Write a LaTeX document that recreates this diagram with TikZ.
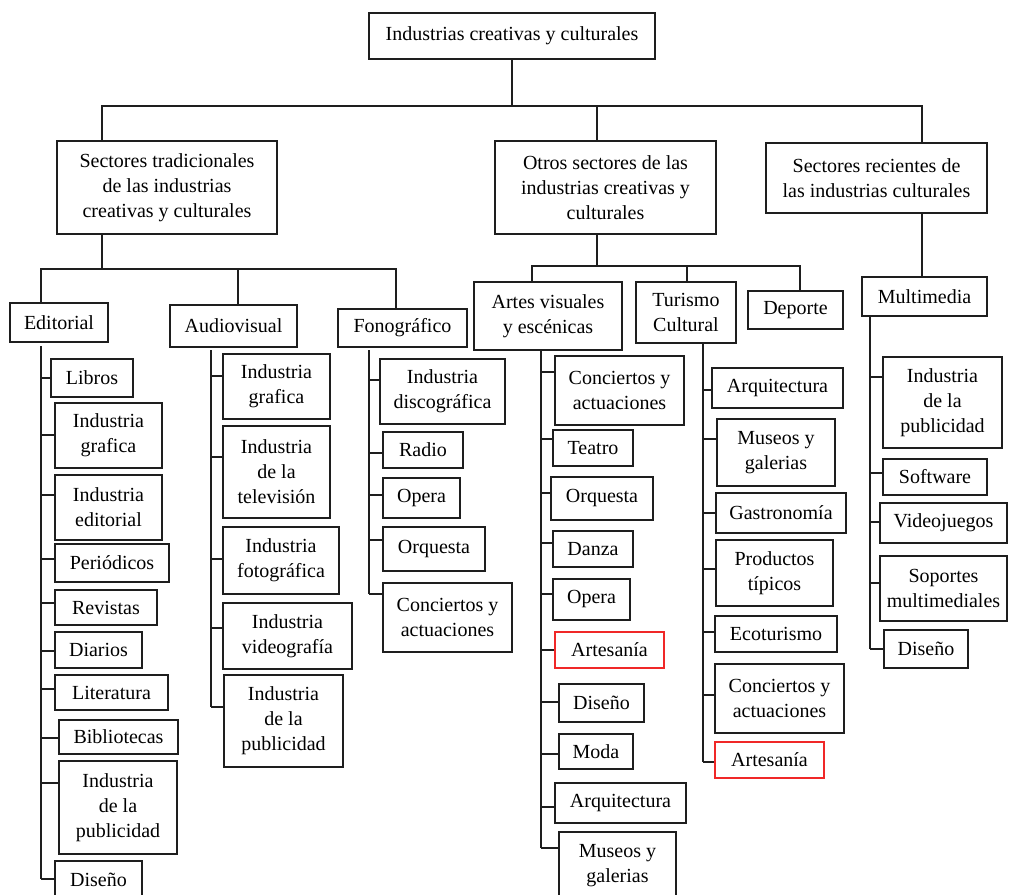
\documentclass[tikz,border=0pt]{standalone}
\usepackage{fontspec}
\setmainfont{Liberation Serif}
\newfontfamily\lserif{Liberation Serif}
\definecolor{linec}{HTML}{1E1E1E}
\definecolor{redc}{HTML}{F02828}
\tikzset{
  box/.style={draw=linec, line width=1.4pt, inner sep=0pt, align=center,
    font=\lserif\fontsize{20}{25}\selectfont, text=black},
  redbox/.style={draw=redc},
  conn/.style={draw=linec, line width=1.5pt}
}
% \bx[opts]{name}{x1}{y1}{x2}{y2}{text}  (pixel coordinates, y downwards)
\newcommand\bx[7][]{\node[box,#1, minimum width={#5-#3}, minimum height={#6-#4}] (#2) at ({(#3+#5)/2},{-(#4+#6)/2}) {#7};}
% \tk{spine}{node}{y}
\newcommand\tk[3]{\coordinate (t-#2) at (0,-#3); \draw[conn] (#1 |- t-#2) -- (#2.west |- t-#2);}
\begin{document}
\begin{tikzpicture}[x=1pt,y=1pt]
\useasboundingbox (0,0) rectangle (1009,-894);
\fill[white] (0,0) rectangle (1009,-894);
\clip (0,0) rectangle (1009,-894);

% level 0 and 1
\bx{top}{369}{13}{655}{59}{Industrias creativas y culturales}
\bx{trad}{57}{141}{277}{234}{Sectores tradicionales\\de las industrias\\creativas y culturales}
\bx{otros}{495}{141}{716}{234}{Otros sectores de las\\industrias creativas y\\culturales}
\bx{rec}{766}{143}{987}{213}{Sectores recientes de\\las industrias culturales}

\coordinate (busL) at (102,-106);
\coordinate (busO) at (597,-106);
\coordinate (busR) at (922,-106);
\draw[conn] (top.south) -- (top.south |- busL);
\draw[conn] (busL |- trad.north) -- (busL) -- (busR) -- (busR |- rec.north);
\draw[conn] (busO) -- (busO |- otros.north);

% level 2
\bx{edit}{10}{303}{108}{342}{Editorial}
\bx{audio}{170}{305}{297}{347}{Audiovisual}
\bx{fono}{338}{309}{467}{347}{Fonográfico}
\bx{artes}{474}{282}{622}{350}{Artes visuales\\y escénicas}
\bx{tur}{636}{282}{736}{343}{Turismo\\Cultural}
\bx{dep}{748}{291}{843}{329}{Deporte}
\bx{mm}{862}{277}{987}{316}{Multimedia}

\coordinate (b2) at (102,-269);
\coordinate (b2L) at (41,-269);
\coordinate (b2M) at (238,-269);
\coordinate (b2R) at (396,-269);
\draw[conn] (trad.south -| b2) -- (b2);
\draw[conn] (b2L |- edit.north) -- (b2L) -- (b2R) -- (b2R |- fono.north);
\draw[conn] (b2M) -- (b2M |- audio.north);

\coordinate (b3) at (597,-266);
\coordinate (b3L) at (532,-266);
\coordinate (b3M) at (687,-266);
\coordinate (b3R) at (800,-266);
\draw[conn] (otros.south -| b3) -- (b3);
\draw[conn] (b3L |- artes.north) -- (b3L) -- (b3R) -- (b3R |- dep.north);
\draw[conn] (b3M) -- (b3M |- tur.north);

\coordinate (b4) at (922,-213);
\draw[conn] (rec.south -| b4) -- (b4 |- mm.north);

% Editorial
\coordinate (sE) at (41,-346);
\bx{libros}{51}{359}{133}{397}{Libros}
\bx{edGraf}{55}{403}{162}{468}{Industria\\grafica}
\bx{edEdit}{55}{475}{162}{540}{Industria\\editorial}
\bx{per}{55}{544}{169}{582}{Periódicos}
\bx{rev}{55}{590}{157}{625}{Revistas}
\bx{dia}{55}{632}{142}{668}{Diarios}
\bx{lit}{55}{675}{168}{710}{Literatura}
\bx{bib}{59}{720}{178}{754}{Bibliotecas}
\bx{edPub}{59}{761}{177}{854}{Industria\\de la\\publicidad}
\bx{edDis}{55}{861}{142}{899}{Diseño}
\tk{sE}{libros}{378}
\tk{sE}{edGraf}{435}
\tk{sE}{edEdit}{495}
\tk{sE}{per}{559}
\tk{sE}{rev}{603}
\tk{sE}{dia}{651}
\tk{sE}{lit}{689}
\tk{sE}{bib}{738}
\tk{sE}{edPub}{783}
\tk{sE}{edDis}{879}
\draw[conn] (sE) -- (sE |- t-edDis);

% Audiovisual
\coordinate (sA) at (211,-350);
\bx{avGraf}{223}{354}{330}{419}{Industria\\grafica}
\bx{avTv}{223}{426}{330}{518}{Industria\\de la\\televisión}
\bx{avFoto}{223}{527}{339}{594}{Industria\\fotográfica}
\bx{avVid}{223}{603}{352}{669}{Industria\\videografía}
\bx{avPub}{224}{675}{343}{767}{Industria\\de la\\publicidad}
\tk{sA}{avGraf}{376}
\tk{sA}{avTv}{457}
\tk{sA}{avFoto}{559}
\tk{sA}{avVid}{628}
\tk{sA}{avPub}{707}
\draw[conn] (sA) -- (sA |- t-avPub);

% Fonografico
\coordinate (sF) at (369,-350);
\bx{disc}{380}{359}{505}{424}{Industria\\discográfica}
\bx{radio}{383}{432}{463}{468}{Radio}
\bx{fOpera}{383}{478}{460}{518}{Opera}
\bx{fOrq}{383}{527}{485}{571}{Orquesta}
\bx{fConc}{383}{583}{512}{652}{Conciertos y\\actuaciones}
\tk{sF}{disc}{380}
\tk{sF}{radio}{453}
\tk{sF}{fOpera}{495}
\tk{sF}{fOrq}{540}
\tk{sF}{fConc}{594}
\draw[conn] (sF) -- (sF |- t-fConc);

% Artes visuales
\coordinate (sV) at (541,-350);
\bx{aConc}{555}{356}{684}{425}{Conciertos y\\actuaciones}
\bx{teatro}{553}{430}{633}{466}{Teatro}
\bx{aOrq}{551}{477}{653}{520}{Orquesta}
\bx{danza}{553}{531}{633}{567}{Danza}
\bx{aOpera}{553}{579}{630}{620}{Opera}
\bx[redbox]{aArt}{555}{632}{664}{668}{Artesanía}
\bx{aDis}{559}{684}{644}{722}{Diseño}
\bx{moda}{559}{734}{633}{769}{Moda}
\bx{aArq}{555}{783}{686}{823}{Arquitectura}
\bx{aMus}{559}{832}{676}{900}{Museos y\\galerias}
\tk{sV}{aConc}{372}
\tk{sV}{teatro}{439}
\tk{sV}{aOrq}{493}
\tk{sV}{danza}{543}
\tk{sV}{aOpera}{594}
\tk{sV}{aArt}{650}
\tk{sV}{aDis}{702}
\tk{sV}{moda}{754}
\tk{sV}{aArq}{807}
\tk{sV}{aMus}{848}
\draw[conn] (sV) -- (sV |- t-aMus);

% Turismo cultural
\coordinate (sT) at (703,-343);
\bx{tArq}{712}{368}{843}{408}{Arquitectura}
\bx{tMus}{717}{419}{835}{486}{Museos y\\galerias}
\bx{gas}{716}{493}{846}{533}{Gastronomía}
\bx{prod}{716}{540}{833}{606}{Productos\\típicos}
\bx{eco}{715}{616}{837}{652}{Ecoturismo}
\bx{tConc}{715}{664}{844}{733}{Conciertos y\\actuaciones}
\bx[redbox]{tArt}{715}{742}{824}{778}{Artesanía}
\tk{sT}{tArq}{390}
\tk{sT}{tMus}{439}
\tk{sT}{gas}{513}
\tk{sT}{prod}{569}
\tk{sT}{eco}{632}
\tk{sT}{tConc}{695}
\tk{sT}{tArt}{762}
\draw[conn] (sT) -- (sT |- t-tArt);

% Multimedia
\coordinate (sM) at (870,-316);
\bx{mPub}{883}{357}{1002}{448}{Industria\\de la\\publicidad}
\bx{soft}{883}{459}{987}{495}{Software}
\bx{video}{880}{503}{1007}{543}{Videojuegos}
\bx{sop}{880}{556}{1007}{621}{Soportes\\multimediales}
\bx{mDis}{884}{630}{968}{668}{Diseño}
\tk{sM}{mPub}{377}
\tk{sM}{soft}{473}
\tk{sM}{video}{522}
\tk{sM}{sop}{583}
\tk{sM}{mDis}{649}
\draw[conn] (sM) -- (sM |- t-mDis);
\end{tikzpicture}
\end{document}
